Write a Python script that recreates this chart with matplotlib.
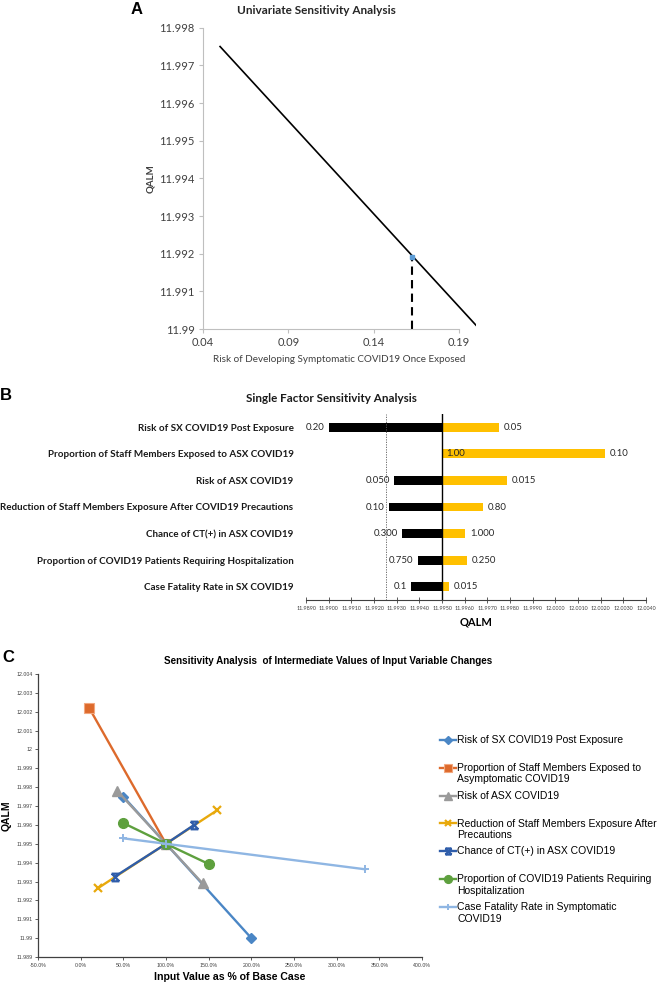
import numpy as np
import matplotlib
matplotlib.use('Agg')
import matplotlib.pyplot as plt
from matplotlib.lines import Line2D
from matplotlib.path import Path
from matplotlib.legend_handler import HandlerLine2D

# ---- panel A data
a_risk = [0.05, 0.20]
a_qalm = [11.9975, 11.9901]
a_base_risk = 0.1625
a_base_qalm = 11.9919

# ---- panel B data (tornado)
b_labels = ['Risk of SX COVID19 Post Exposure',
            'Proportion of Staff Members Exposed to ASX COVID19',
            'Risk of ASX COVID19',
            'Reduction of Staff Members Exposure After COVID19 Precautions',
            'Chance of CT(+) in ASX COVID19',
            'Proportion of COVID19 Patients Requiring Hospitalization',
            'Case Fatality Rate in SX COVID19']
b_low = [11.9900, 11.9950, 11.9929, 11.99265, 11.99323, 11.99392, 11.99364]
b_high = [11.9975, 12.0022, 11.99787, 11.9968, 11.99602, 11.99611, 11.99531]
b_low_txt = ['0.20', '1.00', '0.050', '0.10', '0.300', '0.750', '0.1']
b_high_txt = ['0.05', '0.10', '0.015', '0.80', '1.000', '0.250', '0.015']
b_base = 11.995
b_thresh = 11.99253

# ---- panel C data (% of base case, QALM)
c_names = ['Risk of SX COVID19 Post Exposure',
           'Proportion of Staff Members Exposed to\nAsymptomatic COVID19',
           'Risk of ASX COVID19',
           'Reduction of Staff Members Exposure After\nPrecautions',
           'Chance of CT(+) in ASX COVID19',
           'Proportion of COVID19 Patients Requiring\nHospitalization',
           'Case Fatality Rate in Symptomatic\nCOVID19']
c_x = [[0.50, 1.00, 2.00],
       [0.10, 1.00],
       [0.429, 1.00, 1.429],
       [0.20, 1.00, 1.60],
       [0.40, 1.00, 1.333],
       [0.50, 1.00, 1.50],
       [0.50, 1.00, 3.333]]
c_y = [[11.9975, 11.995, 11.9900],
       [12.0022, 11.995],
       [11.9978, 11.995, 11.9929],
       [11.99264, 11.995, 11.99678],
       [11.99326, 11.995, 11.99601],
       [11.9961, 11.995, 11.99393],
       [11.99529, 11.995, 11.99365]]
c_colors = ['#4A86C5', '#DD6A2C', '#9A9A9A', '#E8A90C', '#2F5DAA', '#5EA03E', '#8FB6E3']

CAL = ['Lato', 'DejaVu Sans']
ARI = ['Liberation Sans', 'DejaVu Sans']

W, H = 660, 983
fig = plt.figure(figsize=(W / 100, H / 100), dpi=100)


def fx(px):
    return px / W


def fy(py):
    return 1 - py / H


def box(l, t, r, b):
    return [fx(l), fy(b), fx(r) - fx(l), fy(t) - fy(b)]


# ================= A
ax = fig.add_axes(box(203, 27.7, 476, 329))
ax.plot(a_risk, a_qalm, color='black', lw=1.2)
ax.plot([a_base_risk, a_base_risk], [11.99, a_base_qalm], color='black', lw=1.5, ls=(0, (4, 2.5)))
ax.plot([a_base_risk], [a_base_qalm], marker='s', ms=3.5, color='#5B9BD5', lw=0)
ax.set_xlim(0.04, 0.2)
ax.set_ylim(11.99, 11.998)
ax.set_xticks([0.04, 0.09, 0.14, 0.19])
ax.set_xticklabels(['0.04', '0.09', '0.14', '0.19'])
ax.set_yticks(np.arange(11.990, 11.9985, 0.001))
ax.set_yticklabels(['11.99', '11.991', '11.992', '11.993', '11.994', '11.995', '11.996', '11.997', '11.998'])
for s in ['top', 'right']:
    ax.spines[s].set_visible(False)
for s in ['left', 'bottom']:
    ax.spines[s].set_color('#BFBFBF')
    ax.spines[s].set_linewidth(0.8)
ax.tick_params(colors='#BFBFBF', labelcolor='#404040', length=3, width=0.8, labelsize=8, pad=3)
for t in ax.get_xticklabels() + ax.get_yticklabels():
    t.set_family(CAL)
ax.spines['bottom'].set_bounds(0.04, 0.19)
ax.set_xlabel('Risk of Developing Symptomatic COVID19 Once Exposed', family=CAL, fontsize=7.1,
              color='#404040', labelpad=5)
ax.set_ylabel('QALM', family=CAL, fontsize=7, color='#404040', fontweight='bold', labelpad=3)
fig.text(fx(316), fy(10), 'Univariate Sensitivity Analysis', family=CAL, fontsize=8.5,
         fontweight='bold', ha='center', va='center', color='#262626')
fig.text(fx(137), fy(10), 'A', family=ARI, fontsize=12, fontweight='bold', ha='center', va='center')

# ================= B
bx = fig.add_axes(box(306, 414, 646, 600))
rows = np.arange(len(b_labels))
low = np.array(b_low)
high = np.array(b_high)
bx.barh(rows, low - b_base, left=b_base, height=0.33, color='black')
bx.barh(rows, high - b_base, left=b_base, height=0.33, color='#FFC000')
bx.axvline(b_base, color='black', lw=1)
bx.axvline(b_thresh, color='#595959', lw=0.6, ls=(0, (1.5, 1.5)))
for i in rows:
    if low[i] < b_base:
        bx.text(low[i] - 0.00018, i, b_low_txt[i], ha='right', va='center', family=CAL, fontsize=6.9, color='#262626')
    else:
        bx.text(low[i] + 0.00018, i, b_low_txt[i], ha='left', va='center', family=CAL, fontsize=6.9, color='#262626')
    bx.text(high[i] + 0.00022, i, b_high_txt[i], ha='left', va='center', family=CAL, fontsize=6.9, color='#262626')
bx.set_ylim(6.5, -0.5)
bx.set_xlim(11.989, 12.004)
bx.set_xticks(np.linspace(11.989, 12.004, 16))
bx.set_xticklabels(['%.4f' % v for v in np.linspace(11.989, 12.004, 16)], family=CAL, fontsize=3.9)
bx.set_yticks(rows)
bx.set_yticklabels(b_labels, family=CAL, fontsize=7.1, fontweight='bold', color='#1a1a1a')
bx.tick_params(axis='y', length=0, pad=9)
bx.tick_params(axis='x', direction='inout', length=4, width=0.6, pad=2, colors='#404040')
for s in ['top', 'right', 'left']:
    bx.spines[s].set_visible(False)
bx.spines['bottom'].set_linewidth(0.8)
bx.spines['bottom'].set_color('#404040')
bx.set_xlabel('QALM', family=CAL, fontsize=8, fontweight='bold', labelpad=4)
fig.text(fx(331), fy(398), 'Single Factor Sensitivity Analysis', family=CAL, fontsize=8.4,
         fontweight='bold', ha='center', va='center', color='#1a1a1a')
fig.text(fx(6), fy(396), 'B', family=ARI, fontsize=12, fontweight='bold', ha='center', va='center')

# ================= C
cx = fig.add_axes(box(38, 674, 422, 957))
star = Path([(-1, 1), (1, -1), (-1, -1), (1, 1), (-1, 1), (1, 1), (-1, -1), (1, -1)],
            [Path.MOVETO, Path.LINETO, Path.MOVETO, Path.LINETO,
             Path.MOVETO, Path.LINETO, Path.MOVETO, Path.LINETO])
mk = [dict(marker='D', ms=5),
      dict(marker='s', ms=7, mec='#F2A77E', mew=0.8),
      dict(marker='^', ms=6.5),
      dict(marker='x', ms=6, mew=1.6),
      dict(marker=star, ms=5.5, mew=1.6),
      dict(marker='o', ms=7),
      dict(marker='+', ms=6, mew=1.4)]
handles = []
for i in range(len(c_names)):
    ln, = cx.plot(c_x[i], c_y[i], color=c_colors[i], lw=1.7, label=c_names[i], **mk[i])
    handles.append(ln)
cx.set_xlim(-0.5, 4.0)
cx.set_ylim(11.989, 12.004)
xt = np.arange(-0.5, 4.01, 0.5)
cx.set_xticks(xt)
cx.set_xticklabels(['%.1f%%' % (v * 100) for v in xt], family=ARI, fontsize=3.8, color='#595959')
yt = np.arange(11.989, 12.0045, 0.001)
cx.set_yticks(yt)
cx.set_yticklabels(['%g' % round(v, 3) for v in yt], family=ARI, fontsize=3.8, color='#595959')
for s in ['top', 'right']:
    cx.spines[s].set_visible(False)
for s in ['left', 'bottom']:
    cx.spines[s].set_color('#404040')
    cx.spines[s].set_linewidth(0.9)
cx.tick_params(direction='out', length=2, width=0.6, pad=2, colors='#404040')
cx.set_xlabel('Input Value as % of Base Case', family=ARI, fontsize=7.6, fontweight='bold', labelpad=3)
cx.set_ylabel('QALM', family=ARI, fontsize=7.5, fontweight='bold', labelpad=3)
fig.text(fx(328), fy(661), 'Sensitivity Analysis  of Intermediate Values of Input Variable Changes',
         family=ARI, fontsize=7.1, fontweight='bold', ha='center', va='center')
fig.text(fx(8), fy(657), 'C', family=ARI, fontsize=12, fontweight='bold', ha='center', va='center')


class FirstLineHandler(HandlerLine2D):
    def create_artists(self, legend, orig_handle, xdescent, ydescent, width, height, fontsize, trans):
        return super().create_artists(legend, orig_handle, xdescent, ydescent - 1.2 * fontsize,
                                      width, height, fontsize, trans)


leg_labels = [n if '\n' in n else n + '\n ' for n in c_names]
leg = cx.legend(handles, leg_labels, loc='upper left', bbox_to_anchor=(fx(440), fy(735)),
                bbox_transform=fig.transFigure, frameon=False, borderpad=0, borderaxespad=0,
                handlelength=1.55, handletextpad=0.1, labelspacing=0.6,
                prop={'family': ARI, 'size': 7.5}, handler_map={Line2D: FirstLineHandler()})
for h in leg.legend_handles:
    h.set_markersize(h.get_markersize() * 0.8)

fig.savefig('out.png', dpi=100)
